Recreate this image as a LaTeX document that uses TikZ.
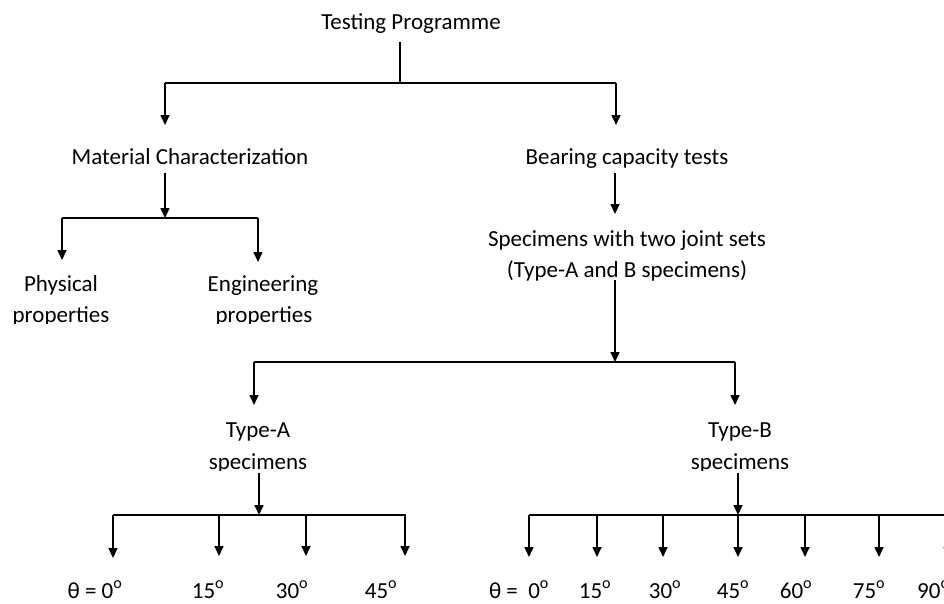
\documentclass[tikz,border=0pt]{standalone}
\usepackage{fontspec}
\setmainfont{Carlito}
\usetikzlibrary{arrows.meta}
\begin{document}
\begin{tikzpicture}[x=1pt,y=-1pt,
  lbl/.style={inner sep=0pt, anchor=base, font=\fontsize{23}{28}\selectfont},
  ln/.style={line width=1.6pt},
  arr/.style={line width=1.6pt,-{Triangle[width=9pt,length=10pt]}}]
\clip (0,0) rectangle (944,603);
\fill[white] (0,0) rectangle (944,603);
% texts
\node[lbl] (tp) at (411,29) {Testing Programme};
\node[lbl] (mc) at (190,164) {Material Characterization};
\node[lbl] (bct) at (627,164) {Bearing capacity tests};
\node[lbl] (sp1) at (627,246) {Specimens with two joint sets};
\node[lbl] (sp2) at (627,277) {(Type-A and B specimens)};
\node[lbl] (ph1) at (61,291) {Physical};
\node[lbl] (en1) at (263,291) {Engineering};
\begin{scope}
\clip (0,0) rectangle (944,323);
\node[lbl] (ph2) at (61,322) {properties};
\node[lbl] (en2) at (264,322) {properties};
\end{scope}
\node[lbl] (ta1) at (258,437) {Type-A};
\node[lbl] (tb1) at (740,437) {Type-B};
\begin{scope}
\clip (0,0) rectangle (944,470);
\node[lbl] (ta2) at (258,469) {specimens};
\node[lbl] (tb2) at (740,469) {specimens};
\end{scope}
\node[lbl] (a00) at (95,598) {θ = 0\textsuperscript{o}};
\node[lbl] (a15) at (208,598) {15\textsuperscript{o}};
\node[lbl] (a30) at (292,598) {30\textsuperscript{o}};
\node[lbl] (a45) at (381,598) {45\textsuperscript{o}};
\node[lbl] (b00) at (519,598) {θ =\ \ 0\textsuperscript{o}};
\node[lbl] (b15) at (595,598) {15\textsuperscript{o}};
\node[lbl] (b30) at (665,598) {30\textsuperscript{o}};
\node[lbl] (b45) at (733,598) {45\textsuperscript{o}};
\node[lbl] (b60) at (796,598) {60\textsuperscript{o}};
\node[lbl] (b75) at (869,598) {75\textsuperscript{o}};
\node[lbl,anchor=base west] (b90) at (917,598) {90\textsuperscript{o}};
% coordinates
\coordinate (t0) at (400,42);  \coordinate (t1) at (400,83);
\coordinate (tl) at (165,83);  \coordinate (tr) at (616,83);
\coordinate (tla) at (165,125); \coordinate (tra) at (616,125);
\coordinate (m0) at (165,173); \coordinate (m1) at (165,218);
\coordinate (ml) at (62,218);  \coordinate (mr) at (258,218);
\coordinate (mla) at (62,260); \coordinate (mra) at (258,262);
\coordinate (b0) at (615,173); \coordinate (b1) at (615,214);
\coordinate (s0) at (615,280); \coordinate (s1) at (615,362);
\coordinate (sl) at (254,362); \coordinate (sr) at (735,362);
\coordinate (sla) at (254,405); \coordinate (sra) at (735,405);
\coordinate (a0) at (259,473); \coordinate (a1) at (259,515);
\coordinate (al) at (113,515); \coordinate (ar) at (406,515);
\coordinate (c0) at (738,473); \coordinate (c1) at (738,515);
\coordinate (cl) at (529,515); \coordinate (cr) at (960,515);
% connectors
\draw[ln] (t0) -- (t1);
\draw[ln] (tl) -- (tr);
\draw[arr] (tl) -- (tla);
\draw[arr] (tr) -- (tra);
\draw[arr] (m0) -- (m1);
\draw[ln] (ml) -- (mr);
\draw[arr] (ml) -- (mla);
\draw[arr] (mr) -- (mra);
\draw[arr] (b0) -- (b1);
\draw[arr] (s0) -- (s1);
\draw[ln] (sl) -- (sr);
\draw[arr] (sl) -- (sla);
\draw[arr] (sr) -- (sra);
\draw[arr] (a0) -- (a1);
\draw[ln] (al) -- (ar);
\foreach \x/\e in {113/558,219/556,306/556,405/556}{
  \coordinate (ja\x) at (\x,515); \coordinate (ea\x) at (\x,\e);
  \draw[arr] (ja\x) -- (ea\x);}
\draw[arr] (c0) -- (c1);
\draw[ln] (cl) -- (cr);
\foreach \x in {529,597,663,738,805,879,948}{
  \coordinate (jb\x) at (\x,515); \coordinate (eb\x) at (\x,557);
  \draw[arr] (jb\x) -- (eb\x);}
\end{tikzpicture}
\end{document}
